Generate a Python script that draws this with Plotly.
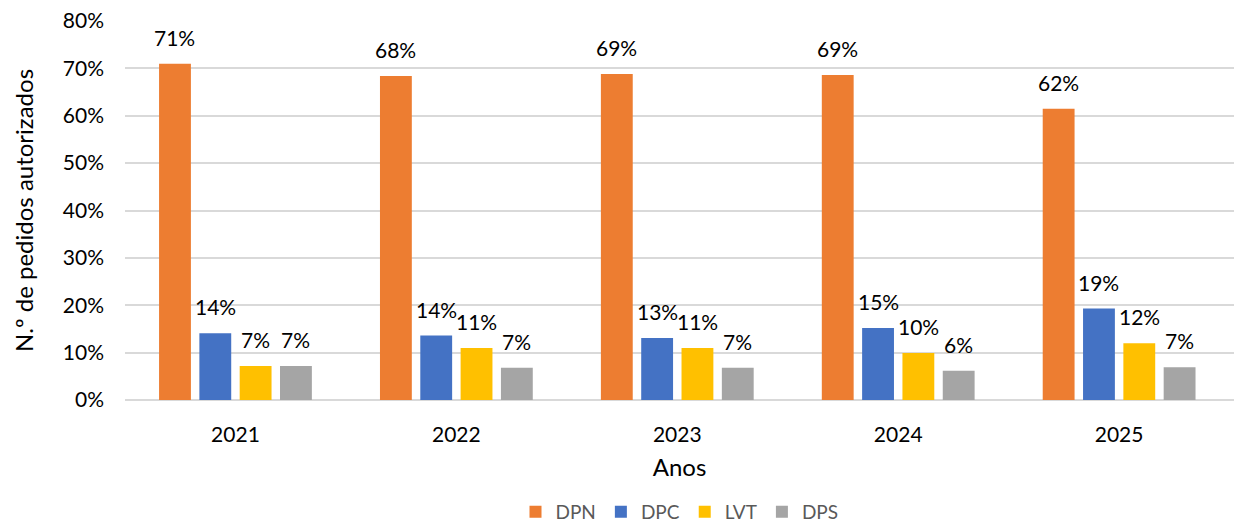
import plotly.graph_objects as go

# data
anos = ["2021", "2022", "2023", "2024", "2025"]
series = ["DPN", "DPC", "LVT", "DPS"]
dpn = [0.710, 0.684, 0.688, 0.686, 0.615]
dpc = [0.141, 0.136, 0.131, 0.152, 0.193]
lvt = [0.072, 0.110, 0.110, 0.099, 0.120]
dps = [0.072, 0.068, 0.068, 0.062, 0.069]
colors = ["#ED7D31", "#4472C4", "#FFC000", "#A5A5A5"]

values = [dpn, dpc, lvt, dps]
font = "Lato, 'Open Sans', sans-serif"

W, H = 1234, 525
ml, mr, mt, mb = 125, 0, 21, 125
xmax = 4.52
bargap = 0.27

fig = go.Figure()
for name, vals, col in zip(series, values, colors):
    fig.add_trace(go.Bar(x=anos, y=vals, name=name, marker_color=col,
                         marker_line_width=0))

# data labels as annotations, shifted to sit over each bar of the group
cat_px = (W - ml - mr) / (xmax + 0.5)
slot_px = (1 - bargap) * cat_px / len(series)
for i, vals in enumerate(values):
    for j, v in enumerate(vals):
        fig.add_annotation(x=j, y=v, xref="x", yref="y",
                           text="{:.0%}".format(v), showarrow=False,
                           xshift=(i - 1.5) * slot_px, yshift=12,
                           yanchor="bottom", font=dict(size=21, color="#000000"))

fig.update_layout(
    width=W, height=H,
    margin=dict(l=ml, r=mr, t=mt, b=mb, autoexpand=False),
    paper_bgcolor="white", plot_bgcolor="white",
    font=dict(family=font, color="#000000"),
    barmode="group", bargap=bargap, bargroupgap=0.21,
    legend=dict(orientation="h", x=0.5, xanchor="center", y=-0.295,
                yanchor="middle", font=dict(size=19, color="#595959"),
                traceorder="normal"),
    xaxis=dict(type="category", range=[-0.5, xmax], showgrid=False,
               showline=False, ticks="", tickfont=dict(size=21),
               ticklabelstandoff=20, automargin=False,
               title=dict(text="Anos", font=dict(size=24), standoff=14)),
    yaxis=dict(range=[0, 0.8], dtick=0.1, tickformat=".0%",
               gridcolor="#D9D9D9", gridwidth=1.5, zeroline=True,
               zerolinecolor="#D9D9D9", zerolinewidth=1.5,
               tickfont=dict(size=21), ticklabelstandoff=20, automargin=False,
               title=dict(text="N.º de pedidos autorizados",
                          font=dict(size=24), standoff=22)),
)

# the default page has an 8px body margin; remove it so the figure sits at 0,0
fig.write_html("out.html", config={"displayModeBar": False},
               post_script="document.body.style.margin='0';")
